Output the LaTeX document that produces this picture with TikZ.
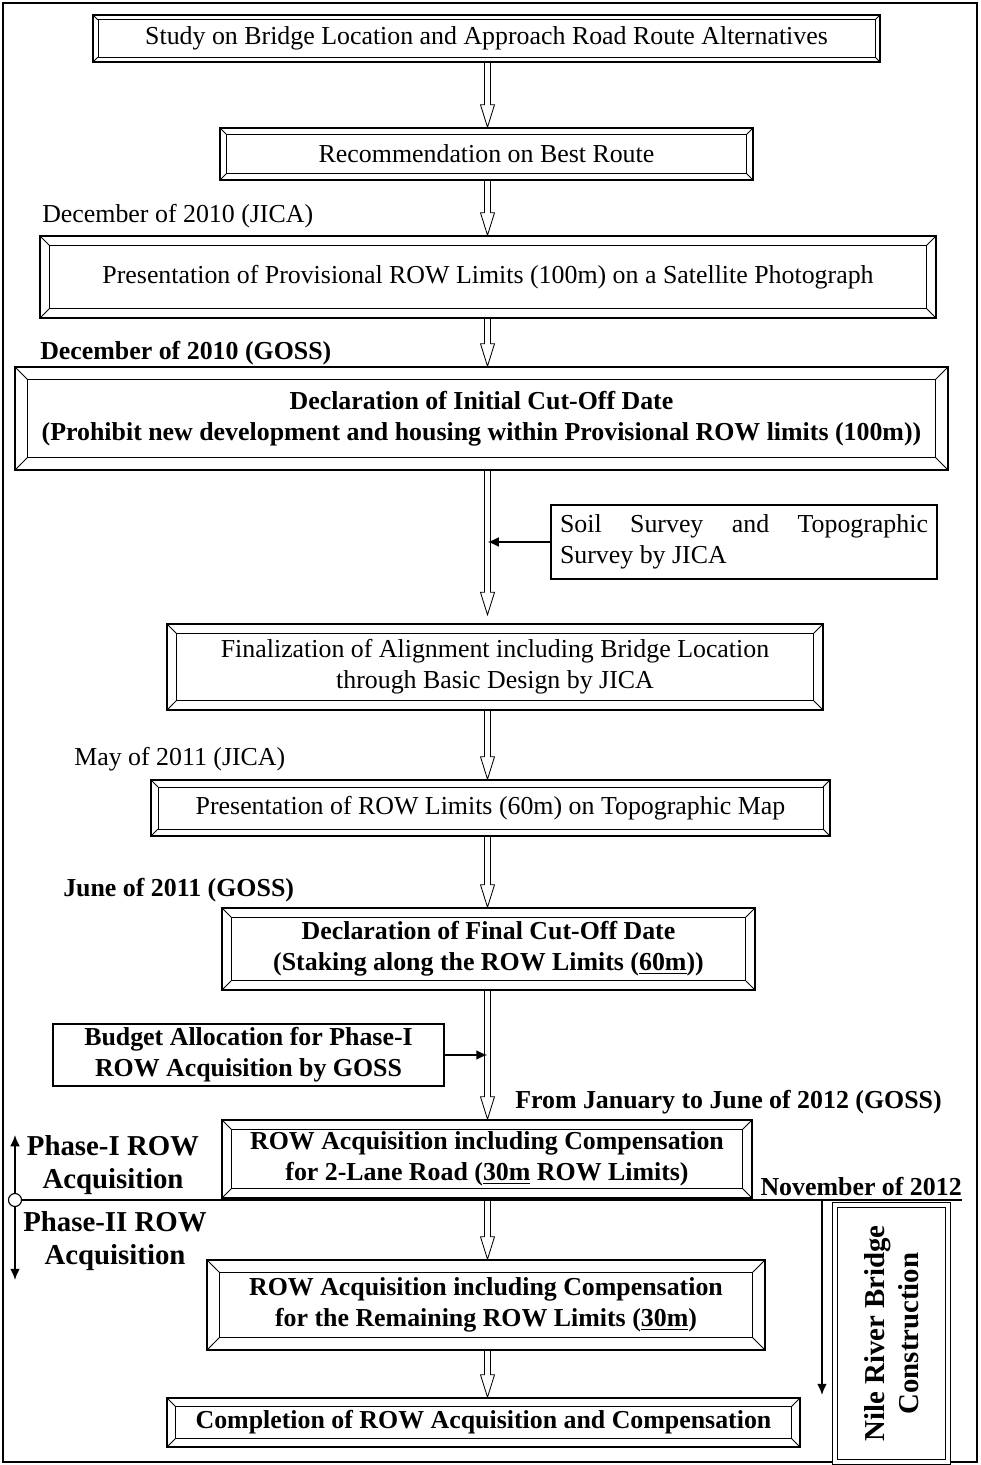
\documentclass[tikz,border=0pt]{standalone}
\usepackage{fontspec}
\setmainfont{Liberation Serif}
\usetikzlibrary{calc,positioning,arrows.meta}
\newcommand{\bodysize}{\fontsize{18.4}{22}\selectfont}

\tikzset{
  boxsize/.style 2 args={minimum width=#1*0.025cm, minimum height=#2*0.025cm},
  bevelbox/.style={draw, line width=1.1pt, inner sep=0pt, align=center,
    path picture={
      \draw[line width=0.6pt]
        ([shift={(#1,-#1)}]path picture bounding box.north west) rectangle
        ([shift={(-#1,#1)}]path picture bounding box.south east);
      \draw[line width=0.6pt] (path picture bounding box.north west) -- ++(#1,-#1);
      \draw[line width=0.6pt] (path picture bounding box.north east) -- ++(-#1,-#1);
      \draw[line width=0.6pt] (path picture bounding box.south west) -- ++(#1,#1);
      \draw[line width=0.6pt] (path picture bounding box.south east) -- ++(-#1,#1);
    }},
  bevelbox/.default=4pt,
  plainbox/.style={draw, line width=1pt, inner sep=0pt},
  boldtext/.style={font=\bodysize\bfseries},
  bigbold/.style={font=\fontsize{20.5}{24}\selectfont\bfseries},
  datelabel/.style={anchor=west, inner sep=0pt},
  hollow/.style={line width=0.6pt, to path={
    let \p1=(\tikztostart), \p2=(\tikztotarget) in
    (\x1-2.1pt,\y1) -- (\x1-2.1pt,\y2+16pt) -- (\x1-5pt,\y2+16pt) -- (\x1,\y2)
    -- (\x1+5pt,\y2+16pt) -- (\x1+2.1pt,\y2+16pt) -- (\x1+2.1pt,\y1)}},
  feed/.style={line width=1.3pt, -{Latex[length=8pt,width=7pt]}}
}

\begin{document}
\begin{tikzpicture}[x=0.025cm, y=-0.025cm, font=\bodysize]
\useasboundingbox (0,0) rectangle (980,1465);
\draw[line width=0.8pt] (3,3) rectangle (977,1462);

% main chain of steps
\node[bevelbox=3.5pt, boxsize={787}{47}] (study) at (486.5,38.5)
  {Study on Bridge Location and Approach Road Route Alternatives};
\node[bevelbox=4.5pt, boxsize={533}{52}] (route) at (486.5,154)
  {Recommendation on Best Route};
\node[bevelbox=7pt, boxsize={896}{82}] (satellite) at (488,277)
  {Presentation of Provisional ROW Limits (100m) on a Satellite Photograph};
\node[bevelbox=9pt, boxsize={933}{103}, boldtext] (initial) at (481.5,418.5)
  {Declaration of Initial Cut-Off Date\\(Prohibit new development and housing within Provisional ROW limits (100m))};
\node[plainbox, boxsize={386}{74}, text width=368*0.025cm, align=justify] (soil) at (744,542)
  {Soil Survey and Topographic\linebreak Survey by JICA};
\node[bevelbox=7pt, boxsize={656}{86}] (finalization) at (495,667)
  {Finalization of Alignment including Bridge Location\\through Basic Design by JICA};
\node[bevelbox=5pt, boxsize={679}{56}] (topomap) at (490.5,808)
  {Presentation of ROW Limits (60m) on Topographic Map};
\node[bevelbox=6.5pt, boxsize={533}{82}, boldtext] (finalcut) at (488.5,949)
  {Declaration of Final Cut-Off Date\\(Staking along the ROW Limits (\underline{60m}))};
\node[plainbox, boxsize={391}{62}, align=center, boldtext] (budget) at (248.5,1055)
  {Budget Allocation for Phase-I\\ROW Acquisition by GOSS};
\node[bevelbox=7pt, boxsize={530}{78}, boldtext] (phaseone) at (487,1159)
  {ROW Acquisition including Compensation\\for 2-Lane Road (\underline{30m} ROW Limits)};
\node[bevelbox=9pt, boxsize={558}{90}, boldtext] (remaining) at (486,1305)
  {ROW Acquisition including Compensation\\for the Remaining ROW Limits (\underline{30m})};
\node[bevelbox=6pt, boxsize={633}{49}, boldtext] (completion) at (483.5,1422.5)
  {Completion of ROW Acquisition and Compensation};
\node[draw, double, double distance=2.5pt, line width=0.9pt, boxsize={257}{113},
  rotate=90, align=center, bigbold] (nile) at (891.5,1333.5)
  {Nile River Bridge\\Construction};

% dates
\node[datelabel] (jica1) at (42,216) {December of 2010 (JICA)};
\node[datelabel, boldtext] (goss1) at (40,353) {December of 2010 (GOSS)};
\node[datelabel] (jica2) at (74,759) {May of 2011 (JICA)};
\node[datelabel, boldtext] (goss2) at (63,890) {June of 2011 (GOSS)};
\node[datelabel, boldtext] (goss3) at (515,1102) {From January to June of 2012 (GOSS)};
\node[anchor=east, inner sep=0pt, boldtext] (nov) at (962,1187) {November of 2012};

% phase split
\node[circle, draw, fill=white, minimum size=13*0.025cm, inner sep=0pt, line width=0.8pt] (phase) at (15,1200) {};
\coordinate (lineend) at (962,1200);
\coordinate (phaseup) at (15,1135);
\coordinate (phasedown) at (15,1280);
\node[align=center, bigbold] (phaseI) at (113,1165) {Phase-I ROW\\Acquisition};
\node[align=center, bigbold] (phaseII) at (115,1241) {Phase-II ROW\\Acquisition};
\draw[line width=2pt] (phase.east) -- (lineend);
\draw[feed] (phase.north) -- (phaseup);
\draw[feed] (phase.south) -- (phasedown);
\coordinate (drop) at (822,1200);
\coordinate (dropend) at (822,1395);
\draw[feed] (drop) -- (dropend);

% hollow arrows along the spine
\coordinate (spine) at (487.5,0);
\draw[hollow] (study.south -| spine) to (route.north -| spine);
\draw[hollow] (route.south -| spine) to (satellite.north -| spine);
\draw[hollow] (satellite.south -| spine) to (initial.north -| spine);
\draw[hollow] (initial.south -| spine) to ([yshift=6pt]finalization.north -| spine);
\draw[hollow] (finalization.south -| spine) to (topomap.north -| spine);
\draw[hollow] (topomap.south -| spine) to (finalcut.north -| spine);
\draw[hollow] (finalcut.south -| spine) to (phaseone.north -| spine);
\draw[hollow] (phaseone.south -| spine) to (remaining.north -| spine);
\draw[hollow] (remaining.south -| spine) to (completion.north -| spine);

% side inputs
\draw[feed] (soil.west) -- (soil.west -| spine);
\draw[feed] (budget.east) -- (budget.east -| spine);
\end{tikzpicture}
\end{document}
